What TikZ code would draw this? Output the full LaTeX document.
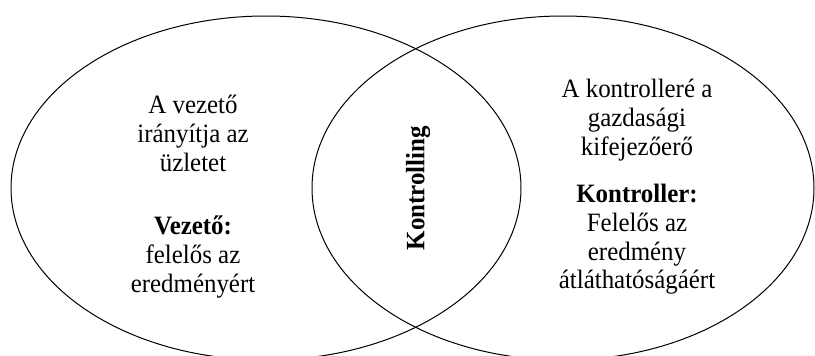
\documentclass[tikz,border=0pt]{standalone}
\usepackage{fontspec}
\setmainfont{Liberation Serif}[FakeStretch=0.94]
\usepackage{tikz}
\usetikzlibrary{shapes.geometric}

\tikzset{
  kor/.style={ellipse, draw, line width=1pt, inner sep=0pt},
  szoveg/.style={align=center, inner sep=0pt, anchor=north,
    font=\fontsize{26.5}{28.8}\selectfont}
}

\begin{document}
\begin{tikzpicture}[x=1pt,y=-1pt]
                \clip (0,0) rectangle (815,356);

                % Ellipses
                \node[kor, minimum width=510, minimum height=344] (vezeto) at (266,188) {};
                \node[kor, minimum width=502, minimum height=344] (kontroller) at (563,188) {};

                % Text
                \node[szoveg] (vezetoA) at (193,95) {A vezető\\irányítja az\\üzletet};
                \node[szoveg] (vezetoB) at (193,216) {\textbf{Vezető:}\\felelős az\\eredményért};
                \node[szoveg] (kontrA) at (637,79) {A kontrolleré a\\gazdasági\\kifejezőerő};
                \node[szoveg] (kontrB) at (637,184) {\textbf{Kontroller:}\\Felelős az\\eredmény\\átláthatóságáért};
                \node[szoveg, anchor=center, rotate=90, font=\fontsize{26.5}{28.8}\selectfont\bfseries] (kontrolling) at (418,188) {Kontrolling};
            \end{tikzpicture}
\end{document}
